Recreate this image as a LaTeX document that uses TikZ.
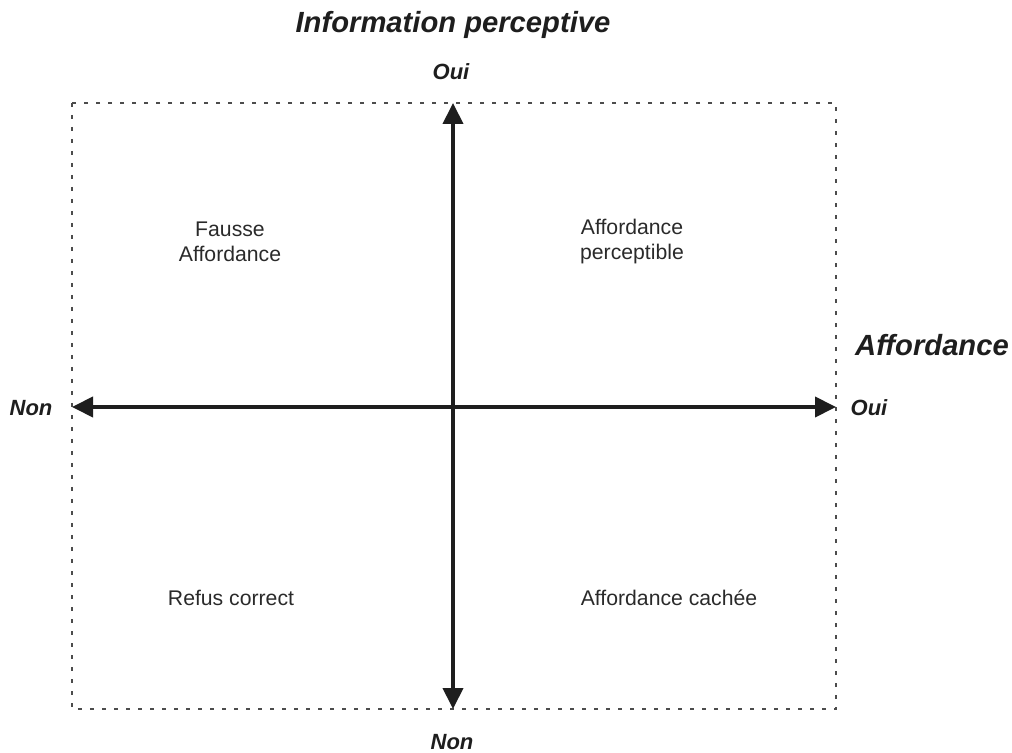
\documentclass[tikz,border=0pt]{standalone}
\usepackage{fontspec}
\setmainfont{Liberation Sans}
\usetikzlibrary{arrows.meta}
\definecolor{axiscol}{HTML}{1E1E1E}
\definecolor{txtcol}{HTML}{2A2A2A}
\tikzset{
  axis/.style={line width=2pt, draw=axiscol, {Triangle[length=10.5pt,width=10pt]}-{Triangle[length=10.5pt,width=10pt]}},
  frame/.style={line width=1pt, draw=black!70, dash pattern=on 2pt off 4pt},
  ends/.style={font=\fontsize{11}{13}\selectfont\bfseries\itshape, text=axiscol},
  title/.style={font=\fontsize{14.6}{17}\selectfont\bfseries\itshape, text=axiscol},
  quad/.style={font=\fontsize{10.6}{12.5}\selectfont, text=txtcol, align=center}
}
\begin{document}
\begin{tikzpicture}[x=0.5pt, y=-0.5pt]
    \useasboundingbox (0,0) rectangle (1012,753);
    \draw[frame] (72,103) rectangle (836,709);

    \coordinate (top) at (453,103);
    \coordinate (bottom) at (453,709);
    \coordinate (left) at (72,407);
    \coordinate (right) at (836,407);
    \draw[axis] (left) -- (right);
    \draw[axis] (bottom) -- (top);

    \node[title] (info) at (453,25) {Information perceptive};
    \node[title] (aff) at (932,345) {Affordance};
    \node[ends] (topoui) at (451,72) {Oui};
    \node[ends] (botnon) at (452,742) {Non};
    \node[ends] (leftnon) at (31,408) {Non};
    \node[ends] (rightoui) at (869,408) {Oui};

    \node[quad] (fausse) at (230,242) {Fausse\\Affordance};
    \node[quad] (percept) at (632,242) {Affordance\\perceptible};
    \node[quad] (refus) at (231,598) {Refus correct};
    \node[quad] (cachee) at (669,598) {Affordance cachée};
\end{tikzpicture}
\end{document}
